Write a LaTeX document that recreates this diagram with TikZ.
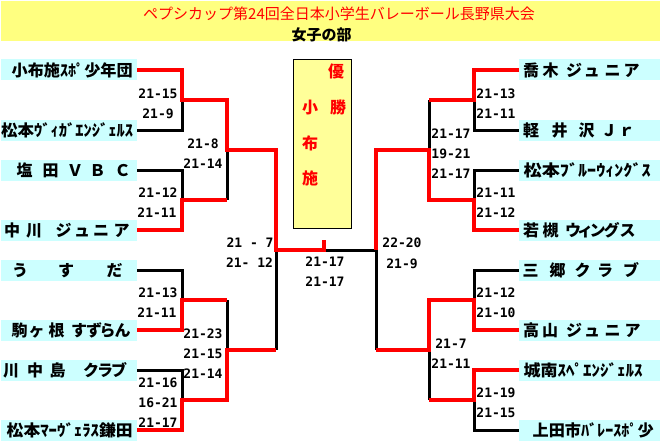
\documentclass[tikz,border=0pt]{standalone}
\usepackage{graphicx}
\usepackage{fontspec}
\newfontfamily\jpfont{Noto Sans CJK JP}
\newfontfamily\scorefont{DejaVu Sans Mono}
\definecolor{titleyel}{RGB}{255,255,128}
\definecolor{winyel}{RGB}{255,255,153}
\definecolor{namecyan}{RGB}{204,255,255}
\definecolor{wred}{RGB}{255,0,0}
\newcommand\pc[2]{\makebox[0pt][l]{\hspace*{#1pt}\makebox[0pt]{#2}}}
\newcommand\pw[3]{\makebox[0pt][l]{\hspace*{#1pt}\makebox[0pt]{\resizebox{#3pt}{\height}{#2}}}}
\tikzset{
  namebox/.style={fill=namecyan, inner sep=0pt, minimum height=21pt, anchor=west,
    font=\jpfont\bfseries\fontsize{16}{16}\selectfont, text height=12.2pt, text depth=0pt},
  score/.style={inner sep=0pt, font=\scorefont\bfseries\fontsize{13}{13}\selectfont,
    text height=9.5pt, text depth=0pt},
  winchar/.style={inner sep=0pt, text=wred, font=\jpfont\bfseries\fontsize{16}{16}\selectfont,
    text height=12.2pt, text depth=0pt},
  loss/.style={draw=black, line width=3pt},
  win/.style={draw=wred, line width=4pt},
}
\begin{document}
\begin{tikzpicture}[x=1pt,y=-1pt]
\useasboundingbox (0,0) rectangle (660,441);
% title
\node[fill=titleyel, inner sep=0pt, minimum width=659pt, minimum height=40pt, anchor=north west] (tbox) at (1,1) {};
\node[inner sep=0pt, text=wred, font=\jpfont\fontsize{15}{15}\selectfont, text height=11.4pt, text depth=0pt] (title) at (339,13.5) {ペプシカップ第24回全日本小学生バレーボール長野県大会};
\node[inner sep=0pt, font=\jpfont\bfseries\fontsize{15}{15}\selectfont, text height=11.4pt, text depth=0pt] (sub) at (321.5,35) {女子の部};
% winner box
\node[draw=black, line width=1pt, fill=winyel, minimum width=58pt, minimum height=168pt, inner sep=0pt] (winbox) at (322,144) {};
\node[winchar] (wc1) at (336,71) {優};
\node[winchar] (wc2) at (338,107) {勝};
\node[winchar] (wc3) at (310,107) {小};
\node[winchar] (wc4) at (310,143) {布};
\node[winchar] (wc5) at (310,178) {施};
% left names
\node[namebox] (L1) at (1,70) {\pw{71}{小布施ｽﾎﾟ少年団}{121}\hspace*{136pt}};
\node[namebox] (L2) at (1,130) {\pw{66}{松本ｳﾞｨｶﾞｴﾝｼﾞｪﾙｽ}{132}\hspace*{136pt}};
\node[namebox] (L3) at (1,170) {\pc{23.5}{塩}\pc{49.5}{田}\pc{74}{Ｖ}\pc{96.5}{Ｂ}\pc{121.5}{Ｃ}\hspace*{136pt}};
\node[namebox] (L4) at (1,230) {\pc{11}{中}\pc{33}{川}\pc{62.5}{ジ}\pc{81}{ュ}\pc{100}{ニ}\pc{120.5}{ア}\hspace*{136pt}};
\node[namebox] (L5) at (1,270) {\pc{19}{う}\pc{65}{す}\pc{113.5}{だ}\hspace*{136pt}};
\node[namebox] (L6) at (1,330) {\pc{18.5}{駒}\pc{35.5}{ヶ}\pc{55.5}{根}\pc{78}{す}\pc{93}{ず}\pc{106.5}{ら}\pc{121.5}{ん}\hspace*{136pt}};
\node[namebox] (L7) at (1,370) {\pc{10}{川}\pc{34}{中}\pc{56.5}{島}\pc{90}{ク}\pc{104}{ラ}\pc{118}{ブ}\hspace*{136pt}};
\node[namebox] (L8) at (1,430) {\pw{68.5}{松本ﾏｰｳﾞｪﾗｽ鎌田}{126}\hspace*{136pt}};
% right names
\node[namebox] (R1) at (519,70) {\pc{12}{喬}\pc{31.5}{木}\pc{55}{ジ}\pc{72.7}{ュ}\pc{93.5}{ニ}\pc{112.5}{ア}\hspace*{141pt}};
\node[namebox] (R2) at (519,130) {\pc{12}{軽}\pc{40.5}{井}\pc{67.5}{沢}\pc{90}{Ｊ}\pc{107.5}{ｒ}\hspace*{141pt}};
\node[namebox] (R3) at (519,170) {\pw{68}{松本ﾌﾞﾙｰｳｨﾝｸﾞｽ}{127}\hspace*{141pt}};
\node[namebox] (R4) at (519,230) {\pc{12}{若}\pc{31.5}{槻}\pc{54}{ウ}\pc{66}{ィ}\pc{78.5}{ン}\pc{92.5}{グ}\pc{108.5}{ス}\hspace*{141pt}};
\node[namebox] (R5) at (519,270) {\pc{11.5}{三}\pc{38.5}{郷}\pc{63.5}{ク}\pc{86}{ラ}\pc{112}{ブ}\hspace*{141pt}};
\node[namebox] (R6) at (519,330) {\pc{12}{高}\pc{31}{山}\pc{55}{ジ}\pc{73}{ュ}\pc{93.5}{ニ}\pc{113.5}{ア}\hspace*{141pt}};
\node[namebox] (R7) at (519,370) {\pw{64}{城南ｽﾍﾟｴﾝｼﾞｪﾙｽ}{119}\hspace*{141pt}};
\node[namebox] (R8) at (519,430) {\pw{74}{上田市ﾊﾞﾚｰｽﾎﾟ少}{121}\hspace*{141pt}};
% joints
\coordinate (a1) at (182,100); \coordinate (a2) at (182,200);
\coordinate (a3) at (182,300); \coordinate (a4) at (182,400);
\coordinate (b1) at (227,150); \coordinate (b2) at (227,350);
\coordinate (c) at (276,250);
\coordinate (f) at (324,250); \coordinate (ft) at (324,240);
\coordinate (A1) at (474,100); \coordinate (A2) at (474,200);
\coordinate (A3) at (474,300); \coordinate (A4) at (474,400);
\coordinate (B1) at (429,150); \coordinate (B2) at (429,350);
\coordinate (C) at (376,250);
% losing lines
\draw[loss] (L2.east) -| (a1);
\draw[loss] (L3.east) -| (a2);
\draw[loss] (b1) -- (b1 |- a2);
\draw[loss] (L5.east) -| (a3);
\draw[loss] (b2 |- a3) -- (b2);
\draw[loss] (L7.east) -| (a4);
\draw[loss] (c |- b2) -- (c);
\draw[loss] (B1 |- A1) -- (B1);
\draw[loss] (R2.west) -| (A1);
\draw[loss] (R3.west) -| (A2);
\draw[loss] (C) -- (f);
\draw[loss] (R5.west) -| (A3);
\draw[loss] (C |- B2) -- (C);
\draw[loss] (B2 |- A4) -- (B2);
\draw[loss] (R8.west) -| (A4);
% winning lines
\draw[win] (L1.east) -| (a1) -| (b1) -| (c) -- (f) -- (ft);
\draw[win] (L4.east) -| (a2) -- (b1 |- a2);
\draw[win] (L6.east) -| (a3) -- (b2 |- a3);
\draw[win] (L8.east) -| (a4) -| (b2) -- (c |- b2);
\draw[win] (R1.west) -| (A1) -- (B1 |- A1);
\draw[win] (R4.west) -| (A2) -| (B1) -| (C);
\draw[win] (R6.west) -| (A3) -| (B2) -- (C |- B2);
\draw[win] (R7.west) -| (A4) -- (B2 |- A4);
% scores
\node[score] (s1) at (158,94) {21-15};
\node[score] (s2) at (158,114) {21-9};
\node[score] (s3) at (203,144) {21-8};
\node[score] (s4) at (203,164) {21-14};
\node[score] (s5) at (158,193) {21-12};
\node[score] (s6) at (157,213) {21-11};
\node[score] (s7) at (250,243) {21 - 7};
\node[score] (s8) at (249.5,263) {21- 12};
\node[score] (s9) at (158,293) {21-13};
\node[score] (s10) at (157,313) {21-11};
\node[score] (s11) at (203,334) {21-23};
\node[score] (s12) at (203,354) {21-15};
\node[score] (s13) at (203,374) {21-14};
\node[score] (s14) at (158,383) {21-16};
\node[score] (s15) at (158,403) {16-21};
\node[score] (s16) at (158,423) {21-17};
\node[score] (s17) at (325,262) {21-17};
\node[score] (s18) at (325,282) {21-17};
\node[score] (s19) at (402,243) {22-20};
\node[score] (s20) at (402,264) {21-9};
\node[score] (s21) at (496,94) {21-13};
\node[score] (s22) at (496,114) {21-11};
\node[score] (s23) at (451,134) {21-17};
\node[score] (s24) at (451,154) {19-21};
\node[score] (s25) at (451,174) {21-17};
\node[score] (s26) at (496,193) {21-11};
\node[score] (s27) at (496,213) {21-12};
\node[score] (s28) at (496,293) {21-12};
\node[score] (s29) at (496,313) {21-10};
\node[score] (s30) at (451,344) {21-7};
\node[score] (s31) at (451,364) {21-11};
\node[score] (s32) at (496,393) {21-19};
\node[score] (s33) at (496,413) {21-15};
\end{tikzpicture}
\end{document}
